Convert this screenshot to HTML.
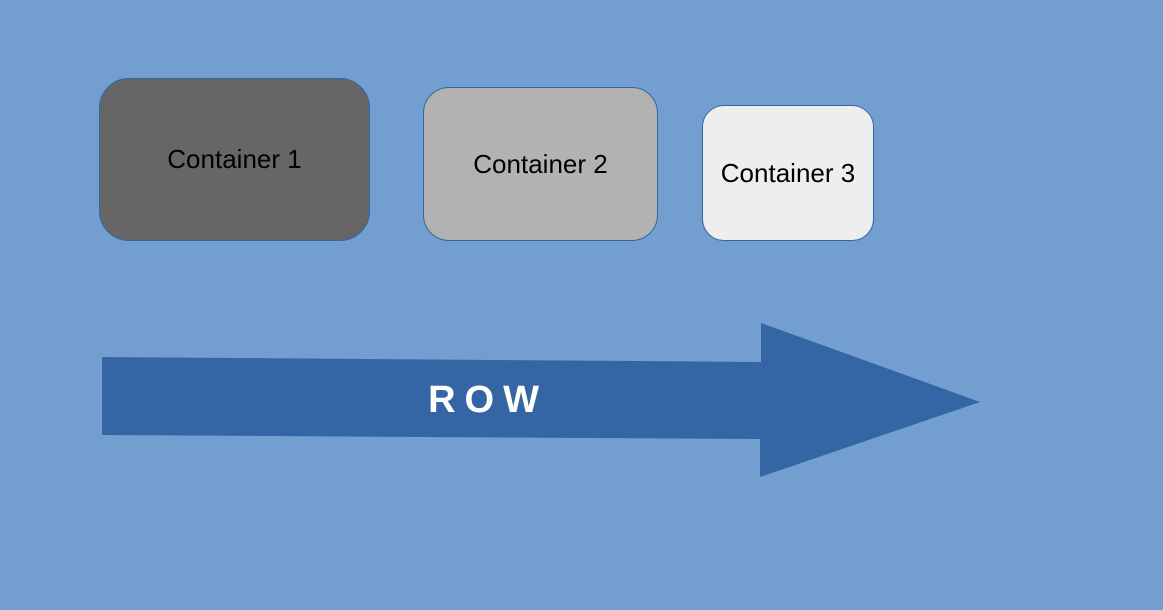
<!DOCTYPE html>
<html><head><style>
body{margin:0;width:1163px;height:610px;background:#729fcf;overflow:hidden;position:relative;font-family:"Liberation Sans",sans-serif}
.b{position:absolute;box-sizing:border-box;border:1px solid #3465a4;display:flex;align-items:center;justify-content:center;font-size:26px;color:#000}
</style></head><body>
<div class="b" style="left:99px;top:78px;width:271px;height:163px;border-radius:30px;background:#666666">Container 1</div>
<div class="b" style="left:423px;top:87px;width:235px;height:154px;border-radius:26px;background:#b2b2b2">Container 2</div>
<div class="b" style="left:702px;top:105px;width:172px;height:136px;border-radius:22px;background:#eeeeee">Container 3</div>
<svg width="1163" height="610" style="position:absolute;left:0;top:0">
<polygon points="102,357 761,362 761,323 980,402 760,477 760,439 102,435" fill="#3465a4"/>
<text x="488" y="412" text-anchor="middle" font-family="Liberation Sans" font-weight="bold" font-size="38" fill="#fff" letter-spacing="9">ROW</text>
</svg>
</body></html>
